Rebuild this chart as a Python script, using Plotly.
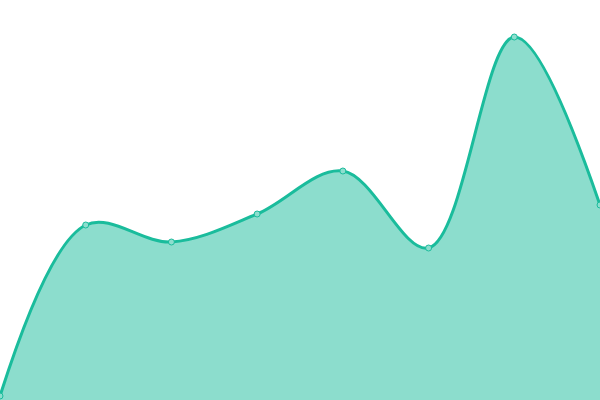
import plotly.graph_objects as go

# Data (8 evenly spaced points)
x_vals = [0, 1, 2, 3, 4, 5, 6, 7]
y_vals = [1, 43.75, 39.5, 46.5, 57.25, 38, 90.75, 48.75]

fig = go.Figure(go.Scatter(
    x=x_vals,
    y=y_vals,
    mode="lines+markers",
    line=dict(color="#1abc9c", width=3, shape="spline", smoothing=1),
    fill="tozeroy",
    fillcolor="rgba(26,188,156,0.5)",
    marker=dict(size=6, color="#8ddece", line=dict(color="#1abc9c", width=1)),
    hoverinfo="x+y",
))

fig.update_layout(
    width=600,
    height=400,
    margin=dict(l=0, r=0, t=0, b=0),
    paper_bgcolor="white",
    plot_bgcolor="white",
    showlegend=False,
    xaxis=dict(range=[0, 7], visible=False, fixedrange=True),
    yaxis=dict(range=[0, 100], visible=False, fixedrange=True),
)

# drop the default page margin so the chart sits flush in the window
fig.write_html(
    "out.html",
    config={"displayModeBar": False},
    post_script="document.body.style.margin='0';document.body.style.overflow='hidden';",
)
